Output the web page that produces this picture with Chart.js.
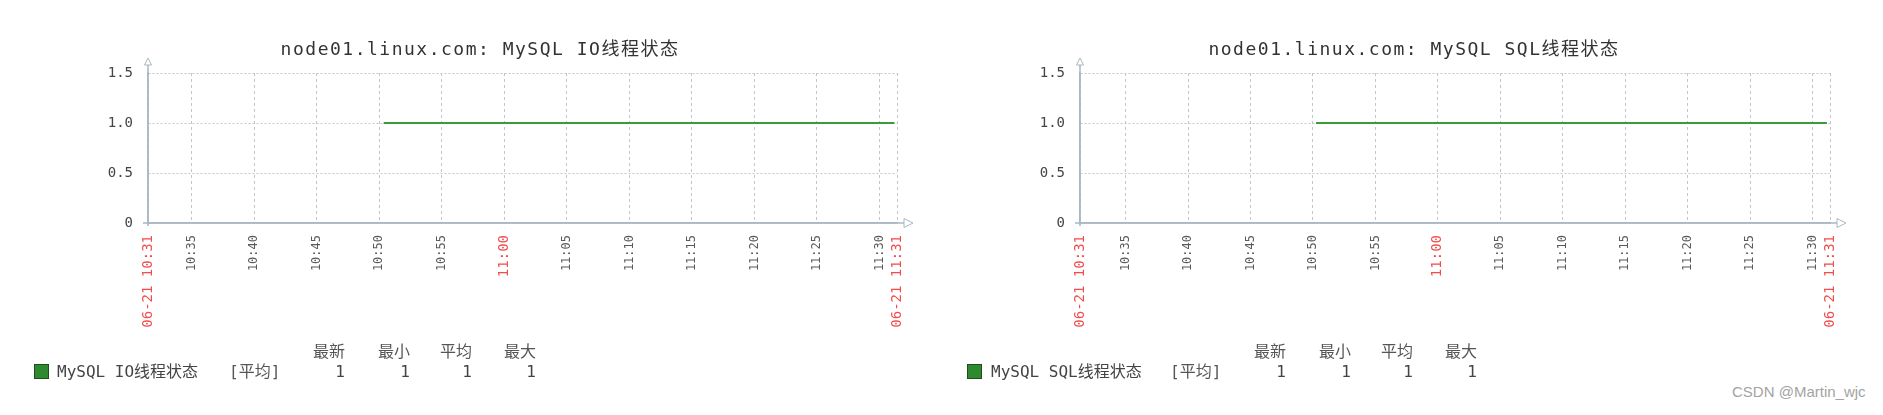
<!DOCTYPE html>
<html>
<head>
<meta charset="utf-8">
<script src="https://cdn.jsdelivr.net/npm/chart.js@4/dist/chart.umd.min.js"></script>
<style>
  body { margin: 0; background: #fff; width: 1883px; height: 415px; overflow: hidden; position: relative;
         font-family: "DejaVu Sans Mono", "Noto Sans CJK SC", monospace; }
  canvas { position: absolute; top: 0; }
  .title { position: absolute; top: 39px; font-size: 18px; line-height: 20px; letter-spacing: 1.5px;
           color: #333; white-space: nowrap; transform: translateX(-50%); }
  .lg { position: absolute; font-size: 16px; line-height: 20px; color: #444; white-space: nowrap; }
  .num { text-align: right; width: 60px; }
  .swatch { position: absolute; width: 13px; height: 13px; background: #2f8a2f; border: 1px solid #1d4f1d; }
  .mark { position: absolute; left: 1732px; top: 383px; font: 15px "Liberation Sans", Arial, sans-serif; color: #a3a3a3; }
</style>
</head>
<body>
<canvas id="ioChart" width="940" height="345" style="left:0"></canvas>
<canvas id="sqlChart" width="943" height="345" style="left:940px"></canvas>
<div class="title" style="left:480px">node01.linux.com: MySQL IO线程状态</div>
<div class="title" style="left:1414px">node01.linux.com: MySQL SQL线程状态</div>
<div id="ioLegend"></div>
<div id="sqlLegend"></div>
<div class="mark">CSDN @Martin_wjc</div>
<script>
// time axis in minutes after 10:00
const tickMinutes = [35, 40, 45, 50, 55, 60, 65, 70, 75, 80, 85, 90];
const tickLabels = ['10:35', '10:40', '10:45', '10:50', '10:55', '11:00', '11:05', '11:10', '11:15', '11:20', '11:25', '11:30'];
const startLabel = '06-21 10:31';
const endLabel = '06-21 11:31';
const ioRange = [31.5, 91.4];
const sqlRange = [31.35, 91.4];

// series (value 1 = thread running)
const ioTimes = [50.35, 91.2];
const ioValues = [1, 1];
const sqlTimes = [50.25, 91.15];
const sqlValues = [1, 1];

// legend table
const statHeaders = ['最新', '最小', '平均', '最大'];
const ioStats = [1, 1, 1, 1];
const sqlStats = [1, 1, 1, 1];

const lineColor = '#3b9b3b';
const gridColor = '#bcc7cf';
const axisColor = '#a9b8c3';
const redLabel = '#f24c4c';
const grayLabel = '#5a5a5a';

Chart.defaults.font.family = '"DejaVu Sans Mono", "Noto Sans CJK SC", monospace';

const axisArrows = {
  id: 'axisArrows',
  afterDraw(chart) {
    const { ctx, chartArea: a } = chart;
    ctx.save();
    ctx.strokeStyle = axisColor;
    ctx.fillStyle = '#fff';
    ctx.lineWidth = 1.5;
    ctx.beginPath();
    ctx.moveTo(a.left - 5, a.bottom); ctx.lineTo(a.right + 7, a.bottom);
    ctx.moveTo(a.left, a.bottom + 3); ctx.lineTo(a.left, a.top - 8);
    ctx.stroke();
    ctx.lineWidth = 1;
    ctx.beginPath();
    ctx.moveTo(a.right + 7, a.bottom - 4.5); ctx.lineTo(a.right + 16, a.bottom); ctx.lineTo(a.right + 7, a.bottom + 4.5);
    ctx.closePath(); ctx.fill(); ctx.stroke();
    ctx.beginPath();
    ctx.moveTo(a.left - 3.5, a.top - 8); ctx.lineTo(a.left, a.top - 15); ctx.lineTo(a.left + 3.5, a.top - 8);
    ctx.closePath(); ctx.fill(); ctx.stroke();
    ctx.restore();
  }
};

function isRed(c) {
  const v = c.tick ? c.tick.value : NaN;
  return c.index === 0 || c.index === tickMinutes.length + 1 || v % 60 === 0;
}

function makeChart(id, range, times, values, yWidth, padRight) {
  const data = times.map((t, i) => ({ x: t, y: values[i] }));
  return new Chart(document.getElementById(id), {
    type: 'line',
    data: { datasets: [{ data, borderColor: lineColor, borderWidth: 2, pointRadius: 0, fill: false, tension: 0 }] },
    options: {
      responsive: false,
      animation: false,
      layout: { padding: { top: 73, left: 0, right: padRight, bottom: 0 } },
      plugins: { legend: { display: false }, tooltip: { enabled: false }, title: { display: false } },
      scales: {
        x: {
          type: 'linear', min: range[0], max: range[1],
          afterBuildTicks: s => { s.ticks = [range[0], ...tickMinutes, range[1]].map(v => ({ value: v })); },
          afterFit: s => { s.height = 122; },
          ticks: {
            autoSkip: false, minRotation: 90, maxRotation: 90, padding: 12,
            callback: (v, i) => i === 0 ? startLabel : (i === tickMinutes.length + 1 ? endLabel : tickLabels[i - 1]),
            color: c => isRed(c) ? redLabel : grayLabel,
            font: c => ({ size: isRed(c) ? 14 : 12 })
          },
          grid: { color: gridColor, drawTicks: false, lineWidth: 1 },
          border: { color: axisColor, width: 1.5, dash: [3, 3] }
        },
        y: {
          min: 0, max: 1.5,
          afterFit: s => { s.width = yWidth; },
          ticks: { stepSize: 0.5, padding: 15, color: '#444', font: { size: 14 },
                   callback: v => v === 0 ? '0' : v.toFixed(1) },
          grid: { color: gridColor, drawTicks: false, lineWidth: 1 },
          border: { color: axisColor, width: 1.5, dash: [2, 2] }
        }
      }
    },
    plugins: [axisArrows]
  });
}

function renderLegend(id, name, stats, swatchX, nameX, colX) {
  const el = document.getElementById(id);
  const rights = [345, 410, 472, 536];
  let html = `<div class="swatch" style="left:${swatchX}px;top:364px"></div>`;
  html += `<div class="lg" style="left:${nameX}px;top:362px">${name}</div>`;
  html += `<div class="lg" style="left:${colX + 229}px;top:362px;color:#555">[平均]</div>`;
  statHeaders.forEach((h, i) => {
    html += `<div class="lg num" style="left:${colX + rights[i] - 60}px;top:342px;color:#555">${h}</div>`;
    html += `<div class="lg num" style="left:${colX + rights[i] - 60}px;top:362px">${stats[i]}</div>`;
  });
  el.innerHTML = html;
}

makeChart('ioChart', ioRange, ioTimes, ioValues, 148, 43);
makeChart('sqlChart', sqlRange, sqlTimes, sqlValues, 140, 53);
renderLegend('ioLegend', 'MySQL IO线程状态', ioStats, 34, 57, 0);
renderLegend('sqlLegend', 'MySQL SQL线程状态', sqlStats, 967, 991, 941);
</script>
</body>
</html>
